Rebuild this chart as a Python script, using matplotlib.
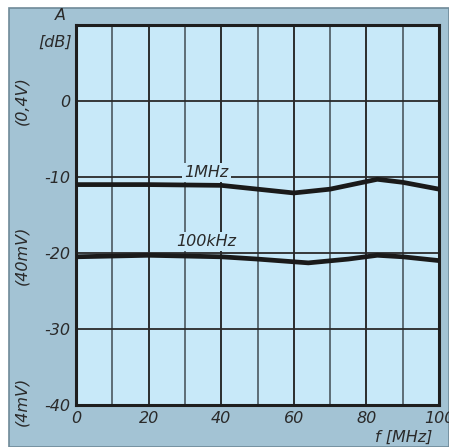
import matplotlib
matplotlib.use("Agg")
import matplotlib.pyplot as plt
from matplotlib.patches import Rectangle

plt.rcParams["axes.unicode_minus"] = False

# Data
freq_1mhz = [0, 20, 40, 50, 60, 70, 83, 90, 100]
amp_1mhz = [-11.0, -11.0, -11.1, -11.6, -12.1, -11.6, -10.3, -10.7, -11.6]
freq_100k = [0, 20, 40, 50, 64, 75, 83, 90, 100]
amp_100k = [-20.5, -20.3, -20.5, -20.8, -21.3, -20.8, -20.3, -20.5, -21.0]
xticks = [0, 20, 40, 60, 80, 100]
yticks = [0, -10, -20, -30, -40]
side_labels = ["(0,4V)", "(40mV)", "(4mV)"]
side_label_y = [0, -20.3, -39.5]

W, H = 449, 447
fig = plt.figure(figsize=(W / 100, H / 100), dpi=100)
fig.patch.set_facecolor("white")

panel_col = "#a3c3d4"
plot_col = "#c8e9f9"
txt_col = "#2a2a2a"

# outer panel
fig.patches.append(Rectangle((9 / W, 0), 1 - 9 / W, 1 - 8 / H, transform=fig.transFigure,
                             facecolor=panel_col, edgecolor="#6f8a98", linewidth=1.2, zorder=-5))

ax = fig.add_axes([76 / W, 1 - 405 / H, 363 / W, 380 / H])
ax.set_zorder(2)
ax.set_facecolor(plot_col)
ax.set_xlim(0, 100)
ax.set_ylim(-40, 10)

for x in range(10, 100, 10):
    ax.axvline(x, color="#1e1e1e" if x % 20 == 0 else "#55646c", lw=1.3, zorder=1)
for y in [-30, -20, -10, 0]:
    ax.axhline(y, color="#2a2a2a", lw=1.3, zorder=1)

ax.plot(freq_1mhz, amp_1mhz, color="#1a1a1a", lw=3.4, zorder=3, solid_capstyle="butt")
ax.plot(freq_100k, amp_100k, color="#1a1a1a", lw=3.4, zorder=3, solid_capstyle="butt")

fs = 11.5
ax.text(36, -9.4, "1MHz", style="italic", fontsize=fs, color=txt_col, ha="center", va="center",
        zorder=4, bbox=dict(facecolor=plot_col, edgecolor="none", pad=1.5))
ax.text(36, -18.5, "100kHz", style="italic", fontsize=fs, color=txt_col, ha="center", va="center",
        zorder=4, bbox=dict(facecolor=plot_col, edgecolor="none", pad=1.5))

for s in ax.spines.values():
    s.set_linewidth(2.2)
    s.set_color("#1e1e1e")
ax.set_xticks(xticks)
ax.set_yticks(yticks)
ax.tick_params(length=0, labelsize=fs, labelcolor=txt_col, pad=4)
for lbl in ax.get_xticklabels() + ax.get_yticklabels():
    lbl.set_style("italic")

fig.text(66 / W, 1 - 16 / H, "A", style="italic", fontsize=fs, color=txt_col, ha="right", va="center", zorder=5)
fig.text(72 / W, 1 - 42 / H, "[dB]", style="italic", fontsize=fs, color=txt_col, ha="right", va="center", zorder=5)
fig.text(432 / W, 1 - 437 / H, "f [MHz]", style="italic", fontsize=fs, color=txt_col, ha="right", va="center", zorder=5)

for lab, yv in zip(side_labels, side_label_y):
    ax.text(-15.0, yv, lab, style="italic", fontsize=fs, color=txt_col, rotation=90,
            ha="center", va="center", transform=ax.transData, clip_on=False)

fig.savefig("out.png", dpi=100, facecolor=fig.get_facecolor())
